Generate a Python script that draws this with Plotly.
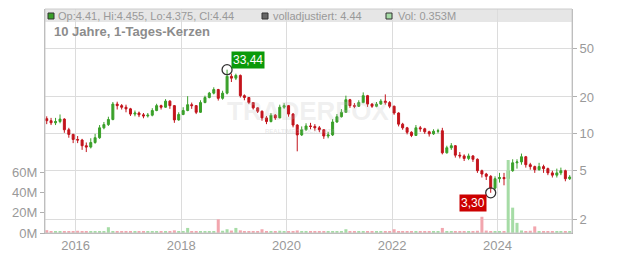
import math
import plotly.graph_objects as go

# ---------------- data (monthly) ----------------
months = [
    "2015-06","2015-07","2015-08","2015-09","2015-10","2015-11","2015-12",
    "2016-01","2016-02","2016-03","2016-04","2016-05","2016-06","2016-07","2016-08","2016-09","2016-10","2016-11","2016-12",
    "2017-01","2017-02","2017-03","2017-04","2017-05","2017-06","2017-07","2017-08","2017-09","2017-10","2017-11","2017-12",
    "2018-01","2018-02","2018-03","2018-04","2018-05","2018-06","2018-07","2018-08","2018-09","2018-10","2018-11","2018-12",
    "2019-01","2019-02","2019-03","2019-04","2019-05","2019-06","2019-07","2019-08","2019-09","2019-10","2019-11","2019-12",
    "2020-01","2020-02","2020-03","2020-04","2020-05","2020-06","2020-07","2020-08","2020-09","2020-10","2020-11","2020-12",
    "2021-01","2021-02","2021-03","2021-04","2021-05","2021-06","2021-07","2021-08","2021-09","2021-10","2021-11","2021-12",
    "2022-01","2022-02","2022-03","2022-04","2022-05","2022-06","2022-07","2022-08","2022-09","2022-10","2022-11","2022-12",
    "2023-01","2023-02","2023-03","2023-04","2023-05","2023-06","2023-07","2023-08","2023-09","2023-10","2023-11","2023-12",
    "2024-01","2024-02","2024-03","2024-04","2024-05","2024-06","2024-07","2024-08","2024-09","2024-10","2024-11","2024-12",
    "2025-01","2025-02","2025-03","2025-04","2025-05",
]
opens = [
    13.3,12.8,12.3,12.6,13.2,10.8,9.9,
    9.0,8.9,8.0,7.8,8.5,9.3,11.2,11.9,13.1,17.5,17.0,16.5,
    16.0,14.5,14.8,14.3,14.0,14.2,15.5,17.0,16.5,18.5,17.0,13.0,
    14.4,15.5,17.3,17.0,15.0,18.0,19.8,21.5,23.0,19.5,21.5,29.5,
    28.5,30.0,20.5,19.8,18.0,16.3,15.3,13.5,12.6,14.2,13.5,16.5,
    17.0,14.5,11.8,9.8,10.8,11.6,11.5,11.2,10.8,9.6,9.8,12.5,
    13.8,15.0,19.0,17.0,16.8,18.0,20.5,17.5,16.8,17.5,18.5,18.0,
    16.8,14.8,12.0,11.2,10.3,9.7,11.2,11.0,10.4,10.0,10.5,10.6,
    7.0,7.7,8.0,6.7,6.6,6.3,6.6,6.2,5.0,4.7,4.5,3.6,
    4.3,4.4,4.3,5.0,5.8,5.9,6.5,5.6,5.4,5.1,5.4,5.2,
    4.8,4.6,4.8,5.0,4.3,
]
highs = [
    13.9,13.5,13.5,14.4,13.4,11.2,10.0,
    9.6,9.1,8.5,9.2,10.0,11.8,12.5,13.8,18.2,18.3,17.5,17.3,
    16.3,15.5,15.2,14.8,14.8,16.2,17.6,17.3,19.2,18.8,17.2,15.0,
    16.5,20.3,18.0,17.2,18.8,20.5,22.0,24.0,23.3,22.5,33.44,31.0,
    31.0,30.5,21.0,20.0,18.2,16.5,15.5,14.0,14.8,14.5,17.3,17.8,
    17.2,14.8,12.0,11.5,12.2,12.3,12.0,11.6,10.9,10.4,13.2,14.5,
    15.9,20.5,19.3,17.8,18.8,21.8,20.8,17.8,18.2,19.2,21.0,18.5,
    17.0,15.0,12.3,11.4,10.5,11.8,11.6,11.2,10.6,10.9,11.0,11.2,
    8.0,8.4,8.1,7.1,6.8,6.9,6.7,6.3,5.1,4.8,4.6,4.5,
    4.8,4.8,5.6,6.2,6.2,6.9,6.6,5.8,5.5,5.8,5.6,5.3,
    5.0,5.2,5.3,5.1,4.6,
]
lows = [
    12.0,11.8,11.8,12.2,10.2,9.3,8.4,
    8.4,7.4,7.1,7.6,8.3,9.1,10.9,11.6,12.9,15.8,15.8,15.0,
    14.0,13.9,13.7,13.4,13.6,13.9,15.3,15.8,16.3,16.0,12.3,12.8,
    14.2,15.3,16.0,14.5,14.8,17.8,19.5,21.0,18.7,19.0,21.0,26.5,
    27.5,19.8,18.8,17.5,15.8,14.8,12.8,12.0,12.4,13.0,13.4,16.0,
    13.8,11.3,7.2,9.6,10.6,10.9,10.6,10.3,9.1,9.2,9.6,12.3,
    13.6,14.8,16.3,16.2,16.6,17.8,16.6,16.3,16.5,17.3,17.3,16.2,
    14.3,11.5,10.8,9.9,9.4,9.6,10.4,10.0,9.5,9.8,10.1,6.8,
    6.9,7.4,6.4,6.3,6.0,6.1,5.9,4.8,4.4,4.2,3.30,3.5,
    4.0,3.8,3.9,4.9,5.2,5.6,5.3,5.1,4.8,5.0,4.8,4.6,
    4.4,4.4,4.6,4.1,4.2,
]
closes = [
    12.8,12.3,12.6,13.2,10.8,9.9,9.0,
    8.9,8.0,7.8,8.5,9.3,11.2,11.9,13.1,17.5,17.0,16.5,16.0,
    14.5,14.8,14.3,14.0,14.2,15.5,17.0,16.5,18.5,17.0,13.0,14.4,
    15.5,17.3,17.0,15.0,18.0,19.8,21.5,23.0,19.5,21.5,29.5,28.5,
    30.0,20.5,19.8,18.0,16.3,15.3,13.5,12.6,14.2,13.5,16.5,17.0,
    14.5,11.8,9.8,10.8,11.6,11.5,11.2,10.8,9.6,9.8,12.5,13.8,
    15.0,19.0,17.0,16.8,18.0,20.5,17.5,16.8,17.5,18.5,18.0,16.8,
    14.8,12.0,11.2,10.3,9.7,11.2,11.0,10.4,10.0,10.5,10.6,7.0,
    7.7,8.0,6.7,6.6,6.3,6.6,6.2,5.0,4.7,4.5,3.6,4.3,
    4.4,4.3,5.0,5.8,5.9,6.5,5.6,5.4,5.1,5.4,5.2,4.8,
    4.6,4.8,5.0,4.3,4.44,
]
volumes_m = [
    2.8,1.6,1.4,1.8,1.5,1.9,1.6,
    2.2,1.5,1.3,1.6,1.4,1.8,1.5,5.7,2.0,1.6,1.4,1.5,
    1.6,1.4,1.5,1.3,1.8,1.6,2.0,1.5,1.4,1.7,2.6,1.8,
    1.6,5.0,2.0,1.6,1.8,1.5,1.7,1.9,13.5,2.2,3.7,2.4,
    5.0,2.6,1.9,2.0,1.6,1.8,3.7,1.9,1.6,1.5,2.2,1.6,
    1.4,1.9,2.5,1.6,1.5,1.4,1.6,1.3,1.5,1.6,1.9,1.7,
    1.6,3.7,1.8,1.6,1.5,1.9,1.7,1.4,1.5,1.6,1.8,1.5,
    3.7,1.9,1.6,1.5,1.7,1.6,1.4,1.5,1.6,1.8,1.6,5.0,
    2.0,1.8,1.6,1.7,1.5,1.9,1.6,2.2,16.0,2.4,2.0,1.8,
    1.9,2.0,72.0,25.0,10.0,2.5,1.9,2.2,6.5,1.8,1.9,2.0,
    1.7,1.6,1.8,2.0,1.6,
]
hi_label = "33,44"
lo_label = "3,30"
header_texts = ["Op:4.41, Hi:4.455, Lo:4.375, Cl:4.44", "volladjustiert: 4.44", "Vol: 0.353M"]
title_text = "10 Jahre, 1-Tages-Kerzen"
year_ticks = ["2016-01-01", "2018-01-01", "2020-01-01", "2022-01-01", "2024-01-01"]
year_labels = ["2016", "2018", "2020", "2022", "2024"]
price_ticks = [2, 5, 10, 20, 50]
vol_ticks_m = [0, 20, 40, 60]

# ---------------- styling / layout ----------------
W, H = 632, 253
L, R, T, B = 45, 60, 9, 20
PW, PH = W - L - R, H - T - B
FONT = "Liberation Sans, Arial, sans-serif"
GREEN = "#3aa02a"
RED = "#c3141c"
GRID = "#dcdcdc"
AX = "#b0b0b0"
TXT = "#999999"

def px_x(x):
    return (x - L) / PW

def px_y(y):
    return (H - B - y) / PH

dates = [m + "-15" for m in months]
vol = [v * 1e6 for v in volumes_m]
vcolors = ["#a6dca6" if c >= o else "#f2a6ae" for o, c in zip(opens, closes)]

fig = go.Figure()

fig.add_trace(go.Bar(
    x=dates, y=vol, yaxis="y2", marker=dict(color=vcolors, line=dict(width=0)),
    hoverinfo="skip", showlegend=False,
))
fig.add_trace(go.Candlestick(
    x=dates, open=opens, high=highs, low=lows, close=closes,
    increasing=dict(line=dict(color=GREEN, width=1), fillcolor=GREEN),
    decreasing=dict(line=dict(color=RED, width=1), fillcolor=RED),
    whiskerwidth=0, showlegend=False, yaxis="y",
))

# extreme markers
i_hi = highs.index(max(highs))
i_lo = lows.index(min(lows))
fig.add_trace(go.Scatter(
    x=[dates[i_hi], dates[i_lo]], y=[highs[i_hi], lows[i_lo]], mode="markers",
    marker=dict(symbol="circle-open", size=10, color="#333333", line=dict(width=1.3)),
    showlegend=False, hoverinfo="skip", yaxis="y",
))

lo_p = 1.55
hi_p = 104.6

fig.update_layout(
    width=W, height=H,
    margin=dict(l=L, r=R, t=T, b=B, autoexpand=False),
    paper_bgcolor="white", plot_bgcolor="white",
    font=dict(family=FONT, color=TXT, size=12),
    bargap=0.25,
    xaxis=dict(
        type="date", range=["2015-06-03", "2025-05-31"],
        tickvals=year_ticks, ticktext=year_labels,
        showgrid=True, gridcolor=GRID, gridwidth=1,
        showline=True, linecolor=AX, linewidth=1, ticks="",
        rangeslider=dict(visible=False), zeroline=False, automargin=False,
        tickfont=dict(size=13, color=TXT),
    ),
    yaxis=dict(
        type="log", side="right", range=[math.log10(lo_p), math.log10(hi_p)],
        tickvals=price_ticks, ticktext=[str(v) for v in price_ticks],
        showgrid=True, gridcolor=GRID, gridwidth=1,
        showline=True, linecolor=AX, linewidth=1,
        ticks="outside", ticklen=4, tickcolor=AX, automargin=False,
        tickfont=dict(size=13, color=TXT), zeroline=False,
    ),
    yaxis2=dict(
        overlaying="y", side="left", range=[0, 221e6],
        tickvals=[v * 1e6 for v in vol_ticks_m], ticktext=[f"{v}M" for v in vol_ticks_m],
        showgrid=False, showline=True, linecolor=AX, linewidth=1,
        ticks="outside", ticklen=4, tickcolor=AX, automargin=False,
        tickfont=dict(size=13, color=TXT), zeroline=False,
    ),
)

shapes = [
    # header band
    dict(type="rect", xref="paper", yref="paper", x0=0, x1=1, y0=px_y(22), y1=1,
         fillcolor="#e6e6e6", line=dict(width=0), layer="below"),
    # frame
    dict(type="rect", xref="paper", yref="paper", x0=0, x1=1, y0=0, y1=1,
         fillcolor="rgba(0,0,0,0)", line=dict(color="#cccccc", width=1)),
    # legend squares
    dict(type="rect", xref="paper", yref="paper", x0=px_x(48), x1=px_x(54), y0=px_y(19), y1=px_y(13),
         fillcolor="#3aa02a", line=dict(color="#333333", width=1)),
    dict(type="rect", xref="paper", yref="paper", x0=px_x(262), x1=px_x(268), y0=px_y(19), y1=px_y(13),
         fillcolor="#666666", line=dict(color="#333333", width=1)),
    dict(type="rect", xref="paper", yref="paper", x0=px_x(386), x1=px_x(392), y0=px_y(19), y1=px_y(13),
         fillcolor="#a6dca6", line=dict(color="#333333", width=1)),
]

annotations = [
    dict(xref="paper", yref="paper", x=px_x(56), y=px_y(16), xanchor="left", yanchor="middle",
         text=header_texts[0], showarrow=False, font=dict(size=11, color="#999999", family=FONT)),
    dict(xref="paper", yref="paper", x=px_x(271), y=px_y(16), xanchor="left", yanchor="middle",
         text=header_texts[1], showarrow=False, font=dict(size=11, color="#999999", family=FONT)),
    dict(xref="paper", yref="paper", x=px_x(396), y=px_y(16), xanchor="left", yanchor="middle",
         text=header_texts[2], showarrow=False, font=dict(size=11, color="#999999", family=FONT)),
    dict(xref="paper", yref="paper", x=px_x(52), y=px_y(32), xanchor="left", yanchor="middle",
         text="<b>" + title_text + "</b>", showarrow=False, font=dict(size=13, color="#8c8c8c", family=FONT)),
    # watermark
    dict(xref="paper", yref="paper", x=px_x(308), y=px_y(111), xanchor="center", yanchor="middle",
         text="<b>TRADERFOX</b>", showarrow=False, font=dict(size=26, color="rgba(190,190,190,0.22)", family=FONT)),
    dict(xref="paper", yref="paper", x=px_x(300), y=px_y(131), xanchor="center", yanchor="middle",
         text="<b>REALTIME STOCK DATA</b>", showarrow=False, font=dict(size=6, color="rgba(190,190,190,0.3)", family=FONT)),
    # extreme labels
    dict(x=dates[i_hi], y=math.log10(highs[i_hi]), xref="x", yref="y", text=hi_label, showarrow=False,
         xanchor="left", yanchor="middle", xshift=4, yshift=10, bgcolor="#0a9a0a",
         font=dict(color="white", size=12, family=FONT), borderpad=1),
    dict(x=dates[i_lo], y=math.log10(lows[i_lo]), xref="x", yref="y", text=lo_label, showarrow=False,
         xanchor="right", yanchor="middle", xshift=-4, yshift=-10, bgcolor="#cc0000",
         font=dict(color="white", size=12, family=FONT), borderpad=1),
]

fig.update_layout(shapes=shapes, annotations=annotations)
fig.write_html("out.html")
